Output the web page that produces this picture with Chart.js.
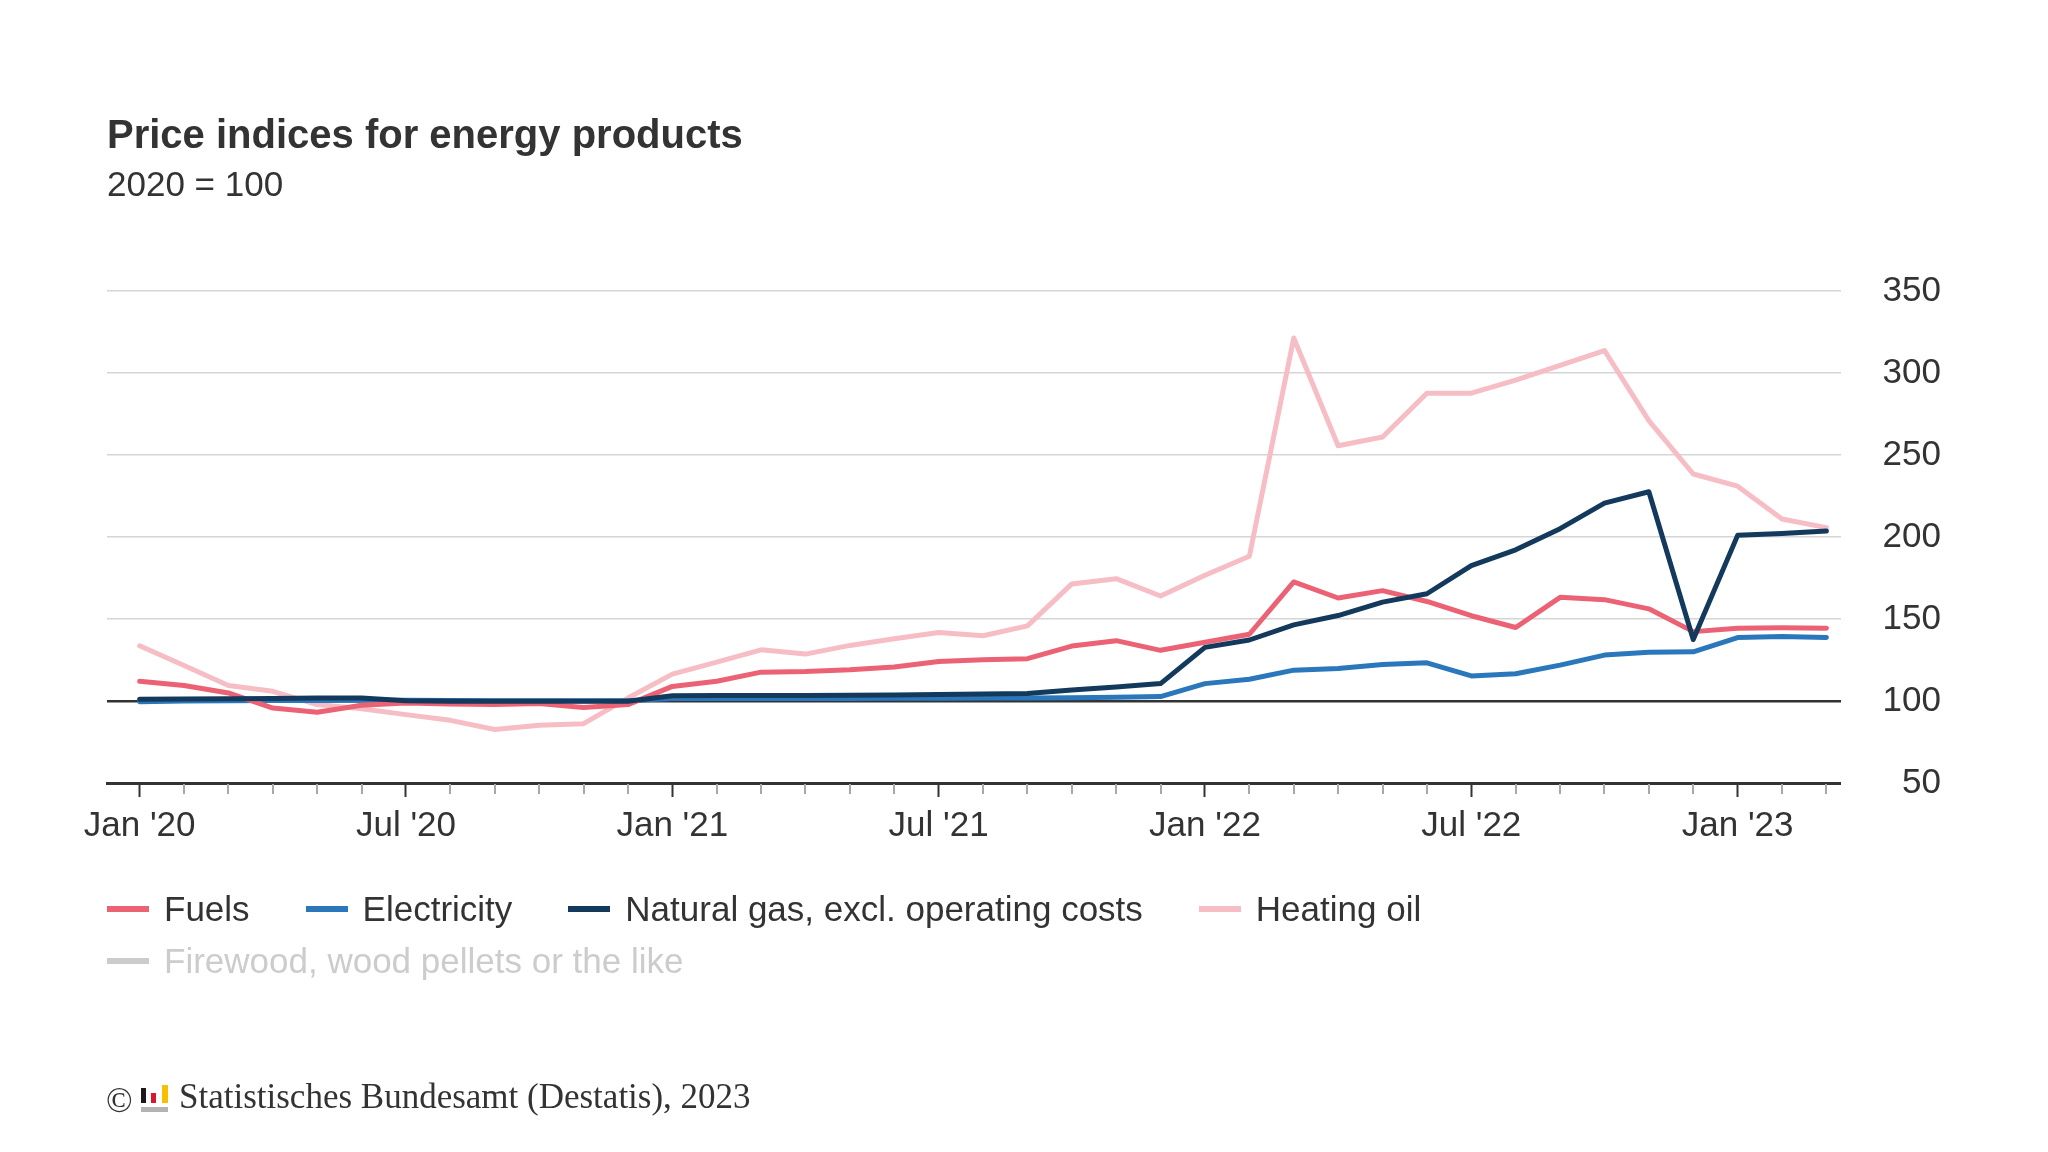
<!DOCTYPE html>
<html>
<head>
<meta charset="utf-8">
<title>Price indices for energy products</title>
<script src="https://cdn.jsdelivr.net/npm/chart.js@4.4.0/dist/chart.umd.min.js"></script>
<style>
  html, body { margin: 0; padding: 0; background: #fff; }
  #wrap { position: relative; width: 2048px; height: 1152px; font-family: "Liberation Sans", Arial, sans-serif; color: #333; overflow: hidden; }
  #chart { position: absolute; left: 0; top: 0; }
  #legend { position: absolute; left: 107px; top: 883px; width: 1734px; display: flex; flex-wrap: wrap; column-gap: 56px; font-size: 35px; }
  .item { display: flex; align-items: center; height: 52px; white-space: nowrap; }
  .swatch { width: 42px; height: 6px; margin-right: 15px; }
  #source { position: absolute; left: 0; top: 1076px; height: 42px; line-height: 42px; font-family: "Liberation Serif", "Times New Roman", serif; font-size: 35px; color: #333; }
  #source .copy { position: absolute; left: 106px; top: 4px; }
  #source .text { position: absolute; left: 179px; top: 0; white-space: nowrap; }
  .logo { position: absolute; left: 141px; top: 9px; width: 27px; height: 27px; }
  .logo span { position: absolute; display: block; }
</style>
</head>
<body>
<div id="wrap">
  <canvas id="chart" width="2048" height="1152"></canvas>
  <div id="legend"></div>
  <div id="source">
    <span class="copy">©</span>
    <div class="logo">
      <span style="left:0;top:3px;width:5px;height:15px;background:#1a1a1a"></span>
      <span style="left:10px;top:8px;width:5px;height:10px;background:#d7192f"></span>
      <span style="left:21px;top:0;width:6px;height:18px;background:#f6bf00"></span>
      <span style="left:0;top:22px;width:27px;height:5px;background:#b3b3b3"></span>
    </div>
    <span class="text">Statistisches Bundesamt (Destatis), 2023</span>
  </div>
</div>
<script>
const FONT = "'Liberation Sans', Arial, sans-serif";

// months Jan 2020 .. Mar 2023
const months = [
  "Jan '20","Feb '20","Mar '20","Apr '20","May '20","Jun '20","Jul '20","Aug '20","Sep '20","Oct '20","Nov '20","Dec '20",
  "Jan '21","Feb '21","Mar '21","Apr '21","May '21","Jun '21","Jul '21","Aug '21","Sep '21","Oct '21","Nov '21","Dec '21",
  "Jan '22","Feb '22","Mar '22","Apr '22","May '22","Jun '22","Jul '22","Aug '22","Sep '22","Oct '22","Nov '22","Dec '22",
  "Jan '23","Feb '23","Mar '23"
];

const fuels = [112, 109.5, 104.9, 95.7, 93.1, 97.4, 98.8, 98.2, 97.8, 98.4, 96.1, 97.8,
  108.9, 112, 117.6, 118, 119, 120.7, 124.1, 125.2, 125.8, 133.5, 136.8, 130.9,
  135.8, 140.7, 172.6, 162.8, 167.3, 160.7, 152, 144.8, 163.2, 161.8, 156.2, 142.3,
  144.4, 144.6, 144.4];

const electricity = [99.6, 100, 100.2, 100.3, 100.3, 100.4, 100.4, 100.3, 100.2, 100.2, 100.1, 100.2,
  101.5, 101.6, 101.6, 101.6, 101.6, 101.7, 101.7, 101.8, 101.9, 102, 102.3, 102.7,
  110.6, 113.3, 118.8, 119.8, 122.3, 123.3, 115.3, 116.6, 121.9, 128, 129.7, 130,
  138.7, 139.3, 138.7];

const naturalGas = [101, 101.2, 101.4, 101.5, 101.8, 101.8, 100.2, 99.9, 99.8, 99.8, 99.8, 99.9,
  103.2, 103.3, 103.4, 103.4, 103.5, 103.6, 103.9, 104.3, 104.6, 106.7, 108.6, 110.6,
  132.7, 137.2, 146.4, 152.1, 160.3, 165.4, 182.6, 192.2, 205.1, 220.7, 227.6, 137.5,
  201, 202.2, 203.7];

const heatingOil = [133.7, 121.7, 109.5, 105.9, 97.8, 95.3, 91.7, 88.2, 82.6, 85.2, 86.2, 101.8,
  116.4, 123.7, 131.2, 128.6, 133.9, 137.9, 141.8, 139.8, 145.8, 171.4, 174.6, 164,
  176.7, 188.3, 321.3, 255.6, 261, 287.7, 287.7, 295.7, 304.7, 313.7, 271, 238.4,
  231, 211, 205.7];

const yTicks = [50, 100, 150, 200, 250, 300, 350];

function points(arr) {
  return arr.map((v, i) => ({ x: i, y: v }));
}

function line(label, data, color, order) {
  return {
    label: label,
    data: points(data),
    borderColor: color,
    backgroundColor: color,
    borderWidth: 5,
    pointRadius: 0,
    tension: 0,
    borderJoinStyle: "round",
    borderCapStyle: "round",
    order: order
  };
}

// small month ticks between Jan and Jul
const minorTicks = {
  id: "minorTicks",
  afterDraw(chart) {
    const sx = chart.scales.x;
    const ctx = chart.ctx;
    const y0 = chart.chartArea.bottom + 1;
    ctx.save();
    ctx.strokeStyle = "#a8a8a8";
    ctx.lineWidth = 2;
    sx.ticks.forEach(t => {
      if (t.value % 6 === 0) return;
      const px = Math.round(sx.getPixelForValue(t.value));
      ctx.beginPath();
      ctx.moveTo(px, y0);
      ctx.lineTo(px, y0 + 10);
      ctx.stroke();
    });
    ctx.restore();
  }
};

const chart = new Chart("chart", {
  type: "line",
  data: {
    datasets: [
      line("Fuels", fuels, "#ec6275", 1),
      line("Electricity", electricity, "#2a78bb", 2),
      line("Natural gas, excl. operating costs", naturalGas, "#133a5c", 0),
      line("Heating oil", heatingOil, "#f7bdc5", 3),
      { label: "Firewood, wood pellets or the like", data: [], borderColor: "#cccccc", backgroundColor: "#cccccc", hidden: true }
    ]
  },
  options: {
    responsive: false,
    animation: false,
    devicePixelRatio: 1,
    layout: { padding: { left: 107, right: 107, top: 0, bottom: 297 } },
    plugins: {
      legend: { display: false },
      tooltip: { enabled: false },
      title: {
        display: true,
        text: "Price indices for energy products",
        align: "start",
        color: "#333",
        font: { family: FONT, size: 40, weight: "bold" },
        padding: { top: 113, bottom: 4 }
      },
      subtitle: {
        display: true,
        text: "2020 = 100",
        align: "start",
        color: "#333",
        font: { family: FONT, size: 35 },
        padding: { top: 0, bottom: 84 }
      }
    },
    scales: {
      x: {
        type: "linear",
        min: -0.736,
        max: 38.32,
        afterBuildTicks: scale => { scale.ticks = months.map((m, i) => ({ value: i })); },
        border: { display: true, color: "#333", width: 3 },
        grid: {
          drawOnChartArea: false,
          drawTicks: true,
          tickLength: 14,
          tickWidth: 2,
          tickColor: c => (c.tick && c.tick.value % 6 === 0) ? "#333" : "rgba(0,0,0,0)"
        },
        ticks: {
          autoSkip: false,
          maxRotation: 0,
          padding: 8,
          color: "#333",
          font: { family: FONT, size: 35 },
          callback: v => (v % 6 === 0 && months[v]) ? months[v] : ""
        }
      },
      y: {
        position: "right",
        min: 50,
        max: 350,
        afterBuildTicks: scale => { scale.ticks = yTicks.map(v => ({ value: v })); },
        border: { display: false },
        grid: {
          drawTicks: false,
          color: c => c.tick.value === 100 ? "#333" : (c.tick.value === 50 ? "rgba(0,0,0,0)" : "#d5d5d5"),
          lineWidth: c => c.tick.value === 100 ? 2.5 : 1.5
        },
        ticks: {
          padding: 21,
          crossAlign: "far",
          color: "#333",
          font: { family: FONT, size: 35 }
        }
      }
    }
  },
  plugins: [minorTicks]
});

// legend built from the chart's datasets
const legendEl = document.getElementById("legend");
chart.data.datasets.forEach(ds => {
  const item = document.createElement("div");
  item.className = "item";
  const sw = document.createElement("span");
  sw.className = "swatch";
  sw.style.background = ds.borderColor;
  const txt = document.createElement("span");
  txt.textContent = ds.label;
  if (ds.hidden) txt.style.color = "#cccccc";
  item.appendChild(sw);
  item.appendChild(txt);
  legendEl.appendChild(item);
});
</script>
</body>
</html>
